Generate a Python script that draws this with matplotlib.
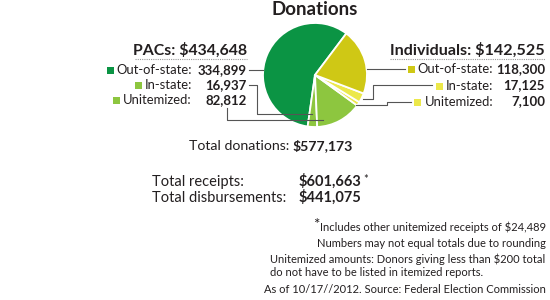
import matplotlib
matplotlib.use("Agg")
import matplotlib.pyplot as plt
from matplotlib.patches import Rectangle

plt.rcParams['font.family'] = ['Lato', 'DejaVu Sans']

# Donations breakdown (FEC, as of 10/17/2012)
row_labels = ["Out-of-state:", "In-state:", "Unitemized:"]
pac_values = [334899, 16937, 82812]
ind_values = [118300, 17125, 7100]
pac_colors = ["#0b9444", "#8dc63f", "#8dc63f"]
ind_colors = ["#cfc815", "#ece84a", "#ece84a"]

total_receipts = 601663
total_disbursements = 441075
other_unitemized = 24489

TXT = "#231f20"
LINE = "#555555"

fig = plt.figure(figsize=(5.5, 3), dpi=100)
ax = fig.add_axes([0, 0, 1, 1])

# pie: PACs counterclockwise from upper right, then individuals back up
# axis is flipped (y down, pixel units), so angles run the other way
cx, cy, r = 315, 75, 52
pie_vals = pac_values + ind_values[::-1]
pie_cols = pac_colors + ind_colors[::-1]
ax.pie(pie_vals, colors=pie_cols, startangle=-53, counterclock=False,
       center=(cx, cy), radius=r, frame=True,
       wedgeprops=dict(edgecolor="white", linewidth=1.3))

ax.set_xlim(0, 550)
ax.set_ylim(300, 0)
ax.axis("off")
renderer = fig.canvas.get_renderer()

ax.text(cx, 15, "Donations", ha="center", va="baseline", fontsize=13.5,
        fontweight="bold", color=TXT)


def put_rows(label_x, value_x, baselines, values, colors):
    for lab, val, col, yb in zip(row_labels, values, colors, baselines):
        t = ax.text(label_x, yb, lab, ha="right", va="baseline", fontsize=9.4, color=TXT)
        ax.text(value_x, yb, f"{val:,}", ha="right", va="baseline", fontsize=9.5,
                fontweight="bold", color=TXT)
        w = t.get_window_extent(renderer).width
        sq = 7
        ax.add_patch(Rectangle((label_x - w - 3 - sq, yb - 3.5 - sq / 2), sq, sq,
                               color=col, lw=0))


# PACs block
pac_total = sum(pac_values)
ax.text(247, 55, f"PACs: ${pac_total:,}", ha="right", va="baseline", fontsize=11.4,
        fontweight="bold", color=TXT)
ax.plot([135, 247], [58.5, 58.5], ls=(0, (1, 1)), color="#999999", lw=0.8)
put_rows(192, 247, [74, 89, 104], pac_values, pac_colors)

# Individuals block
ind_total = sum(ind_values)
ax.text(545, 55, f"Individuals: ${ind_total:,}", ha="right", va="baseline",
        fontsize=11.6, fontweight="bold", color=TXT)
ax.plot([390, 545], [58.5, 58.5], ls=(0, (1, 1)), color="#999999", lw=0.8)
put_rows(493, 545, [73, 89.5, 105.5], ind_values, ind_colors)

# leader lines
lk = dict(color=LINE, lw=0.8)
ax.plot([249, cx - (r ** 2 - (70 - cy) ** 2) ** 0.5], [70, 70], **lk)
ax.plot([249, 257, 257, 312], [85, 85, 114, 114], **lk)
ax.plot([227, 227, 323], [108, 120, 120], **lk)
ax.plot([cx + (r ** 2 - (69 - cy) ** 2) ** 0.5, 405], [69, 69], **lk)
ax.plot([363, 373, 373, 432], [99, 99, 85, 85], **lk)
ax.plot([356, 387, 387, 411], [105, 105, 102, 102], **lk)

# totals
ax.text(289, 150, "Total donations:", ha="right", va="baseline", fontsize=10.2, color=TXT)
ax.text(292, 150, f"${pac_total + ind_total:,}", ha="left", va="baseline",
        fontsize=10.2, fontweight="bold", color=TXT)

ax.text(152, 186, "Total receipts:", ha="left", va="baseline", fontsize=10.5, color=TXT)
t = ax.text(299, 186, f"${total_receipts:,}", ha="left", va="baseline", fontsize=10.5,
            fontweight="bold", color=TXT)
w = t.get_window_extent(renderer).width
ax.text(299 + w + 1, 183, "*", ha="left", va="baseline", fontsize=8, color=TXT)
ax.text(152, 202, "Total disbursements:", ha="left", va="baseline", fontsize=10.5, color=TXT)
ax.text(299, 202, f"${total_disbursements:,}", ha="left", va="baseline", fontsize=10.5,
        fontweight="bold", color=TXT)

# footnotes
fn = dict(fontsize=8, color=TXT, va="baseline")
t = ax.text(546, 231, f"Includes other unitemized receipts of ${other_unitemized:,}",
            ha="right", **fn)
w = t.get_window_extent(renderer).width
ax.text(546 - w, 229, "*", ha="right", va="baseline", fontsize=11, color=TXT)
ax.text(546, 247, "Numbers may not equal totals due to rounding", ha="right", **fn)
ax.text(270, 263, "Unitemized amounts: Donors giving less than $200 total", ha="left", **fn)
ax.text(270, 276, "do not have to be listed in itemized reports.", ha="left", **fn)
ax.text(546, 293, "As of 10/17//2012. Source: Federal Election Commission", ha="right", **fn)

fig.savefig("out.png", dpi=100)
